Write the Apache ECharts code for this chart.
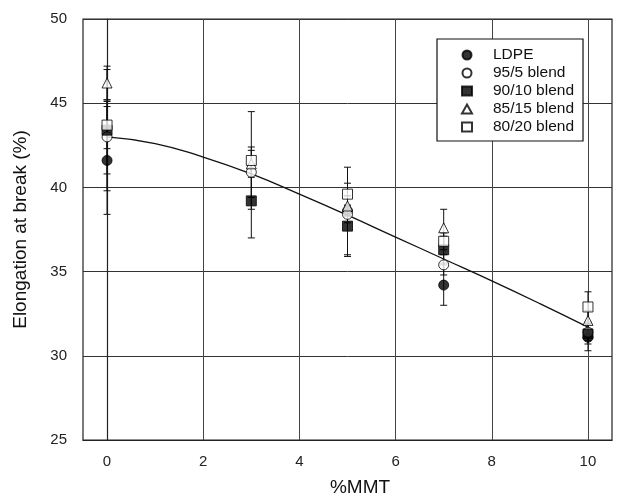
<!DOCTYPE html>
<html>
<head>
<meta charset="utf-8">
<script src="https://cdn.jsdelivr.net/npm/echarts@6/dist/echarts.min.js"></script>
<style>
  html, body { margin: 0; padding: 0; background: #fff; }
  #chart { width: 632px; height: 502px; }
</style>
</head>
<body>
<div id="chart"></div>
<script>
// %MMT loadings
const mmt = [0, 3, 5, 7, 10];
const xTicks = [0, 2, 4, 6, 8, 10];

// elongation at break (%)
const ldpe = [41.6, null, 38.6, 34.2, 31.1];
const blend95 = [43.0, 40.9, 38.4, 35.4, 31.4];
const blend90 = [43.4, 39.2, 37.7, 36.3, 31.3];
const blend85 = [46.2, 41.4, 38.9, 37.6, 32.1];
const blend80 = [43.7, 41.6, 39.6, 36.8, 32.9];

// error bar half-lengths
const ldpeErr = [3.2, null, 2.6, 1.2, 0.8];
const blend95Err = [2.2, 1.5, 0.5, 0.6, 0.5];
const blend90Err = [3.6, 2.2, 1.8, 0.8, 0.6];
const blend85Err = [1.0, 0.8, 0.6, 1.1, 0.6];
const blend80Err = [1.4, 2.9, 0.65, 0.5, 0.9];

// trend curve, points
const fitX = [0, 1, 2, 3, 4, 5, 6, 7, 8, 9, 10];
const fitY = [43.0, 42.6, 41.8, 40.8, 39.6, 38.35, 37.05, 35.75, 34.45, 33.1, 31.7];

const FONT = 'Liberation Sans, Arial, sans-serif';

function points(vals) {
  const ret = [];
  for (let i = 0; i < mmt.length; i++) {
    if (vals[i] != null) ret.push([mmt[i], vals[i]]);
  }
  return ret;
}

function errPoints(vals, errs) {
  const ret = [];
  for (let i = 0; i < mmt.length; i++) {
    if (vals[i] != null && errs[i] != null) ret.push([mmt[i], vals[i], errs[i]]);
  }
  return ret;
}

function renderErr(params, api) {
  const x = api.value(0), y = api.value(1), e = api.value(2);
  const hi = api.coord([x, y + e]);
  const lo = api.coord([x, y - e]);
  const w = 3.5;
  const style = { stroke: '#111', lineWidth: 1 };
  return {
    type: 'group',
    children: [
      { type: 'line', shape: { x1: hi[0], y1: hi[1], x2: lo[0], y2: lo[1] }, style: style },
      { type: 'line', shape: { x1: hi[0] - w, y1: hi[1], x2: hi[0] + w, y2: hi[1] }, style: style },
      { type: 'line', shape: { x1: lo[0] - w, y1: lo[1], x2: lo[0] + w, y2: lo[1] }, style: style }
    ]
  };
}

const groups = [
  { name: 'LDPE', vals: ldpe, errs: ldpeErr, symbol: 'circle', fill: '#000' },
  { name: '95/5 blend', vals: blend95, errs: blend95Err, symbol: 'circle', fill: '#fff' },
  { name: '90/10 blend', vals: blend90, errs: blend90Err, symbol: 'rect', fill: '#000' },
  { name: '85/15 blend', vals: blend85, errs: blend85Err, symbol: 'triangle', fill: '#fff' },
  { name: '80/20 blend', vals: blend80, errs: blend80Err, symbol: 'rect', fill: '#fff' }
];

const series = [];
groups.forEach(function (g) {
  series.push({
    type: 'custom',
    renderItem: renderErr,
    data: errPoints(g.vals, g.errs),
    encode: { x: 0, y: 1 },
    z: 1,
    silent: true
  });
});
series.push({
  type: 'line',
  data: fitX.map(function (x, i) { return [x, fitY[i]]; }),
  smooth: true,
  showSymbol: false,
  lineStyle: { color: '#111', width: 1.3 },
  z: 2,
  silent: true
});
groups.forEach(function (g) {
  series.push({
    name: g.name,
    type: 'scatter',
    data: points(g.vals),
    symbol: g.symbol,
    symbolSize: 10,
    itemStyle: { color: g.fill, borderColor: '#000', borderWidth: 1 },
    z: 3
  });
});

const chart = echarts.init(document.getElementById('chart'));
chart.setOption({
  animation: false,
  textStyle: { fontFamily: FONT },
  grid: {
    left: 83, right: 20, top: 19, bottom: 59,
    show: true, borderColor: '#222', borderWidth: 1.2
  },
  legend: {
    data: groups.map(function (g) { return g.name; }),
    orient: 'vertical',
    left: 437, top: 39,
    itemWidth: 10, itemHeight: 9, itemGap: 2,
    padding: [8, 9, 6, 24],
    backgroundColor: '#fff',
    borderColor: '#111', borderWidth: 1.2,
    textStyle: { fontSize: 15.5, color: '#111', fontFamily: FONT, padding: [0, 0, 0, 16] }
  },
  xAxis: {
    type: 'value',
    min: -0.5, max: 10.5,
    name: '%MMT',
    nameLocation: 'middle',
    nameGap: 38,
    nameTextStyle: { fontSize: 19, color: '#111', padding: [0, 0, 0, 25] },
    axisLine: { show: true, lineStyle: { color: '#222', width: 1.2 } },
    axisTick: { show: false, customValues: xTicks },
    axisLabel: { customValues: xTicks, fontSize: 15, color: '#222', margin: 14 },
    splitLine: { show: true, lineStyle: { color: '#444', width: 1 } }
  },
  yAxis: {
    type: 'value',
    min: 25, max: 50, interval: 5,
    name: 'Elongation at break (%)',
    nameLocation: 'middle',
    nameGap: 53,
    nameTextStyle: { fontSize: 19, color: '#111' },
    axisLine: { show: true, lineStyle: { color: '#222', width: 1.2 } },
    axisTick: { show: false },
    axisLabel: { fontSize: 15, color: '#222', margin: 16 },
    splitLine: { show: true, lineStyle: { color: '#333', width: 1 } }
  },
  series: series
});
</script>
</body>
</html>
